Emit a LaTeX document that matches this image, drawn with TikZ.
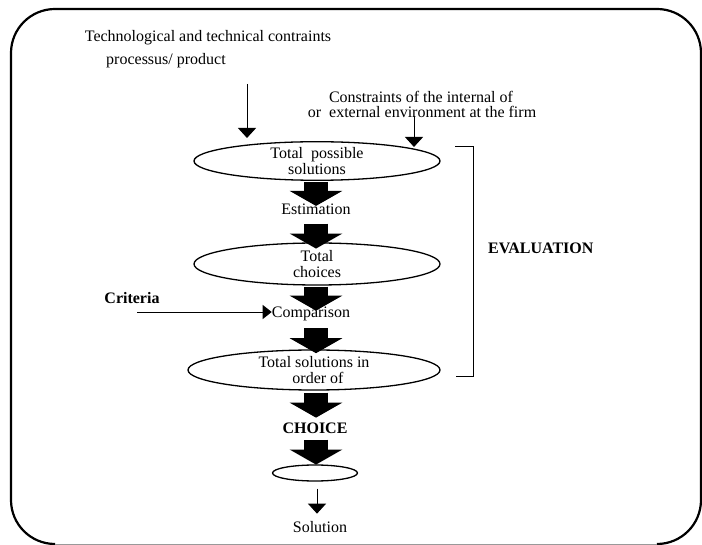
\documentclass[tikz,border=0pt]{standalone}
\usepackage{fontspec}
\setmainfont{Liberation Serif}
\usetikzlibrary{shapes.geometric,arrows.meta}

\tikzset{
  frameline/.style={line width=2.2pt, rounded corners=44pt},
  label/.style={inner sep=0pt, font=\fontsize{16}{16}\selectfont},
  boldlabel/.style={inner sep=0pt, font=\fontsize{16}{16}\selectfont\bfseries},
  oval/.style={ellipse, draw, line width=1.3pt, inner sep=0pt, align=center,
               font=\fontsize{16}{16}\selectfont},
  thinarrow/.style={line width=0.9pt, -{Triangle[length=10pt,width=18pt]}},
  bigarrow/.style={line width=24pt, -{Triangle[length=15pt,width=52pt]}},
  bracketline/.style={line width=1pt}
}

\begin{document}
\begin{tikzpicture}[x=1pt,y=-1pt]
\useasboundingbox (0,0) rectangle (702,545);

% outer frame with a faint lower edge
\draw[frameline] (657,544) -- (701,544) -- (701,9) -- (11,9) -- (11,544) -- (55,544);
\draw[line width=1pt, black!40] (55,544) -- (657,544);

% incoming constraints
\node[label] (tech) at (208,38) {Technological and technical contraints};
\node[label] (proc) at (166,61) {processus/ product};
\node[label] (cons1) at (421,97) {Constraints of the internal of};
\node[label] (cons2) at (422,112) {or\ \ external environment at the firm};
\coordinate (techtop) at (247,84);
\coordinate (techend) at (247,138);
\coordinate (constop) at (414,116);
\coordinate (consend) at (414,147);
\draw[thinarrow] (techtop) -- (techend);
\draw[thinarrow] (constop) -- (consend);

% main column
\node[oval, minimum width=246pt, minimum height=38pt] (e1) at (317,161) {Total\ \ possible\\solutions};
\node[label] (est) at (316,209) {Estimation};
\node[oval, minimum width=246pt, minimum height=42pt] (e2) at (317,264) {Total\\choices};
\node[label] (cmp) at (311,314) {Comparison};
\node[oval, minimum width=252pt, minimum height=40pt] (e3) at (314,370) {Total solutions in\\\ \ order of};
\node[boldlabel] (choice) at (315,428) {CHOICE};
\node[ellipse, draw, line width=1.3pt, minimum width=85pt, minimum height=16pt, inner sep=0pt] (e4) at (315,473) {};
\node[label] (sol) at (320,527) {Solution};

% block arrows down the column
\draw[bigarrow] ([yshift=-1pt]e1.south -| 316,0) -- ++(0,24);
\draw[bigarrow] ([yshift=-9pt]est.south -| 316,0) -- ++(0,25);
\draw[bigarrow] ([yshift=-1pt]e2.south -| 316,0) -- ++(0,24);
\draw[bigarrow] ([yshift=-7pt]cmp.south -| 316,0) -- ++(0,25);
\draw[bigarrow] ([yshift=-2pt]e3.south -| 316,0) -- ++(0,25);
\draw[bigarrow] ([yshift=-6pt]choice.south -| 316,0) -- ++(0,25);
\draw[thinarrow] ([yshift=-7pt]e4.south -| 317,0) -- ++(0,25);

% criteria input
\node[boldlabel] (crit) at (132,298) {Criteria};
\coordinate (critstart) at (137,312);
\draw[line width=0.9pt, -{Triangle[length=9pt,width=14pt]}] (critstart) -- (cmp.west |- critstart);

% evaluation bracket
\coordinate (brA) at (455,147);
\coordinate (brB) at (473,147);
\coordinate (brC) at (473,377);
\coordinate (brD) at (456,377);
\draw[bracketline] (brA) -- (brB) -- (brC) -- (brD);
\node[boldlabel, anchor=west] (eval) at (488,248) {EVALUATION};
\end{tikzpicture}
\end{document}
